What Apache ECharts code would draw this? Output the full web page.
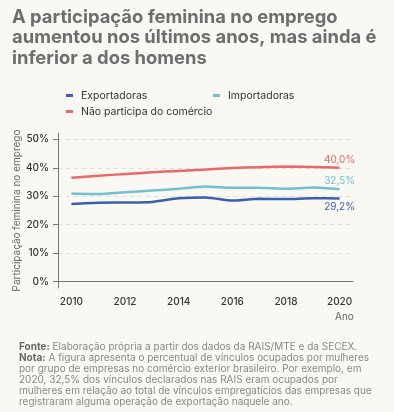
<!DOCTYPE html>
<html><head><meta charset="utf-8">
<script src="https://cdn.jsdelivr.net/npm/echarts@6/dist/echarts.min.js"></script>
<style>html,body{margin:0;padding:0;background:#f9f8f3}#c{width:394px;height:412px}</style>
</head><body><div id="c"></div>
<script>
const years = ['2010','2011','2012','2013','2014','2015','2016','2017','2018','2019','2020'];
const exportadoras = [27.3, 27.7, 27.8, 28.0, 29.3, 29.6, 28.5, 29.1, 29.0, 29.3, 29.2];
const importadoras = [31.0, 30.8, 31.4, 32.0, 32.6, 33.4, 33.0, 33.0, 32.6, 33.1, 32.5];
const naoParticipa = [36.5, 37.2, 37.8, 38.4, 38.9, 39.4, 39.9, 40.2, 40.4, 40.3, 40.0];
const yTicks = [0, 10, 20, 30, 40, 50];
const endLabels = ['29,2%', '32,5%', '40,0%'];

const FONT = 'Inter';
const C_EXP = '#3b5ead', C_IMP = '#72c0cf', C_NAO = '#e8686b';

function endMark(arr, text, pos, color) {
  const i = arr.length - 1;
  return {
    symbol: 'circle', symbolSize: 0, silent: true,
    data: [{coord: [years[i], arr[i]]}],
    label: {show: true, position: pos, distance: 3, formatter: text, color: color, fontSize: 10, fontFamily: FONT}
  };
}

const chart = echarts.init(document.getElementById('c'));
chart.setOption({
  backgroundColor: '#f9f8f3',
  animation: false,
  title: [{
    text: 'A participação feminina no emprego\naumentou nos últimos anos, mas ainda é\ninferior a dos homens',
    left: 7, top: 2,
    textStyle: {fontFamily: FONT, fontWeight: 'bold', fontSize: 18.4, lineHeight: 20.5, color: '#6e6e6e'}
  }, {
    text: '{b|Fonte:} Elaboração própria a partir dos dados da RAIS/MTE e da SECEX.\n{b|Nota:} A figura apresenta o percentual de vínculos ocupados por mulheres\npor grupo de empresas no comércio exterior brasileiro. Por exemplo, em\n2020, 32,5% dos vínculos declarados nas RAIS eram ocupados por\nmulheres em relação ao total de vínculos empregatícios das empresas que\nregistraram alguma operação de exportação naquele ano.',
    left: 14, top: 336,
    textStyle: {fontFamily: FONT, fontSize: 10, lineHeight: 11, color: '#888', fontWeight: 'normal',
      rich: {b: {fontFamily: FONT, fontSize: 10, lineHeight: 11, fontWeight: 'bold', color: '#666'}}}
  }],
  legend: [
    {data: ['Exportadoras'], left: 66, top: 90},
    {data: ['Importadoras'], left: 213, top: 90},
    {data: ['Não participa do comércio'], left: 66, top: 106}
  ].map(l => Object.assign(l, {
    icon: 'rect', itemWidth: 7, itemHeight: 3, padding: 0,
    textStyle: {fontFamily: FONT, fontSize: 10.5, color: '#333', padding: [0, 0, 0, 3]}
  })),
  grid: {left: 58, right: 41, top: 133, bottom: 124, containLabel: false},
  xAxis: {
    type: 'category', data: years, boundaryGap: true,
    name: 'Ano', nameLocation: 'end', nameGap: -18,
    nameTextStyle: {fontFamily: FONT, fontSize: 10, color: '#666', verticalAlign: 'top', padding: [30, 0, 0, 0]},
    axisLine: {lineStyle: {color: '#777'}},
    axisTick: {alignWithLabel: true, interval: 1, length: 5, lineStyle: {color: '#777'}},
    axisLabel: {interval: 1, margin: 9, fontFamily: FONT, fontSize: 10, fontWeight: 500, color: '#333'},
    splitLine: {show: false}
  },
  yAxis: {
    type: 'value', min: -2.2, max: 52.2,
    name: 'Participação feminina no emprego', nameLocation: 'middle', nameGap: 36, nameMoveOverlap: false,
    nameTextStyle: {fontFamily: FONT, fontSize: 10, color: '#666'},
    axisLine: {show: true, lineStyle: {color: '#777'}},
    axisTick: {show: true, length: 5, customValues: yTicks, lineStyle: {color: '#777'}},
    axisLabel: {customValues: yTicks, margin: 9, formatter: v => v + '%', fontFamily: FONT, fontSize: 10, fontWeight: 500, color: '#333'},
    splitLine: {show: true, lineStyle: {color: '#ddd', type: [4, 4]}}
  },
  series: [
    {name: 'Exportadoras', type: 'line', data: exportadoras, color: C_EXP, markPoint: endMark(exportadoras, endLabels[0], 'bottom', C_EXP)},
    {name: 'Importadoras', type: 'line', data: importadoras, color: C_IMP, markPoint: endMark(importadoras, endLabels[1], 'top', C_IMP)},
    {name: 'Não participa do comércio', type: 'line', data: naoParticipa, color: C_NAO, markPoint: endMark(naoParticipa, endLabels[2], 'top', C_NAO)}
  ].map(s => Object.assign(s, {showSymbol: false, symbol: 'none', smooth: 0.2, lineStyle: {width: 2.5}}))
});
</script></body></html>
